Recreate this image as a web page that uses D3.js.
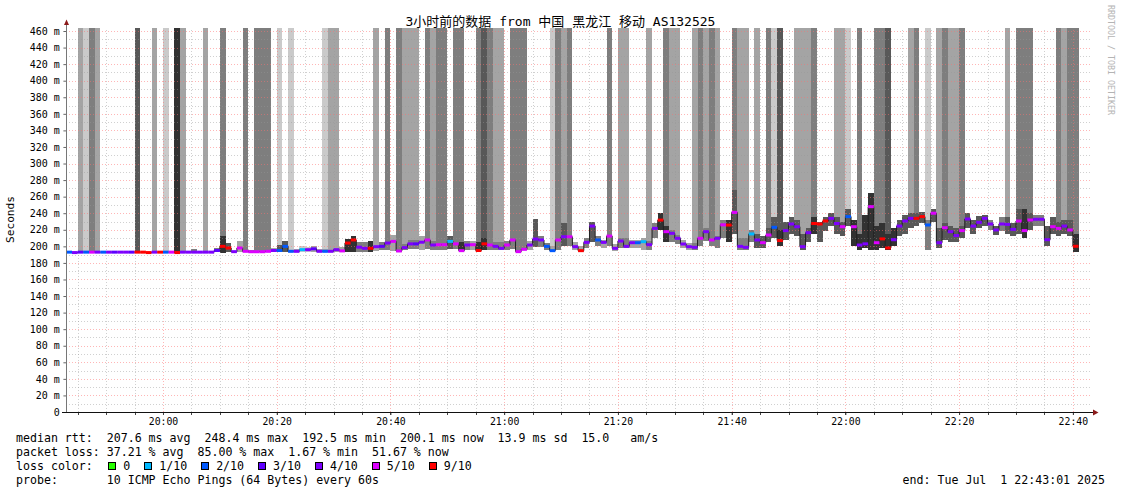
<!DOCTYPE html>
<html><head><meta charset="utf-8">
<script src="https://cdn.jsdelivr.net/npm/d3@7/dist/d3.min.js"></script>
<style>
html,body{margin:0;padding:0;background:#fff;}
svg{display:block;}
text{font-family:"DejaVu Sans Mono","Noto Sans CJK SC",monospace;white-space:pre;}
</style></head><body>
<svg id="c" width="1121" height="494"></svg>
<script>
// ---------- data (one entry per 60 s step, first step ends 19:44:00) ----------
const medianMs = [
193,192.5,193,193,193,193,193,193,193,193,
193,193,193,193,192.5,193,193,193,193,192.5,
193,193,193,193,193,193,195,200,198,193.6,
198,194,193.5,193.5,193.5,194,195,195,200,194,
194,196,196,197,194,194,194,196,194.5,204,
207.7,199,197.6,197.6,199.6,200,204,206,194.4,198.5,
203,203,205,207.7,201.6,202,202,206,203,194.8,
201.6,202,195,203,201.6,200,197.6,201.6,207.7,193.6,
196.4,201.6,208.8,207.7,200,194.8,207.7,211.6,211.6,199.6,
194.8,204.8,224.5,207.7,204.8,212.4,197.6,206.4,200,204.4,
204.4,205.6,202,221.7,231.7,217.7,215.7,209.7,202.8,199.6,
198.8,209.7,217.7,207.7,209.7,226,225.7,241,200,198.8,
215,207.7,204.4,213.7,223,207,219,227,223.7,199.6,
216.5,227.6,227,230.6,233.8,227.6,223.7,235.9,223.7,201.6,
203,247.9,204.4,209,198,208,224.5,230.6,233.8,233.8,
235.9,225.8,240,204.4,222.5,217.7,213,219,233,224.5,
229,233.8,227,219.8,227,226.5,220.5,230.6,219,231.8,
232.7,232.7,208,223.7,221.7,224.5,219.8,200.1];
const lossCount = [
2,4,3,2,5,4,2,4,3,4, 4,3,9,9,9,4,9,2,5,9, 4,4,4,4,4,4,3,9,9,4,
5,5,5,5,5,5,4,2,2,2, 4,1,4,3,4,2,4,4,5,9, 9,4,4,9,4,3,4,5,5,4,
4,3,4,5,4,5,5,1,5,5, 4,5,9,9,5,4,4,5,5,5, 5,4,4,4,2,2,5,4,5,4,
9,4,4,2,4,5,4,4,4,4, 2,1,4,4,9,5,4,4,4,4, 4,5,4,5,4,5,9,5,4,4,
1,4,5,5,2,9,4,4,4,4, 4,9,9,9,4,4,5,2,5,4, 4,5,5,9,9,4,4,4,4,9,
9,2,5,4,5,4,4,5,4,4, 4,4,4,4,4,4,4,5,5,5, 4,4,4,5,5,4,5,9];
// shade level of the smoke that reaches above the chart top (0 = none)
const topShade = [
0,0,2,1,3,2,0,0,0,0, 0,0,4,0,0,2,0,1,0,5, 2,0,0,0,2,0,0,3,0,0,
0,3,0,3,3,3,0,1,0,1, 0,0,0,0,0,1,2,2,0,0, 0,0,0,0,2,0,3,0,3,2,
2,2,0,3,2,3,3,0,3,3, 0,0,3,4,3,2,2,0,3,3, 3,0,0,0,0,1,3,2,3,0,
0,0,0,0,0,3,0,2,2,0, 0,0,2,0,0,3,2,2,0,0, 2,3,2,3,2,0,0,3,2,2,
0,2,0,3,1,4,0,0,2,2, 2,3,0,0,0,2,2,1,0,3, 0,0,3,3,4,0,0,0,2,3,
0,1,0,2,3,2,2,3,0,0, 0,0,0,0,0,2,0,3,3,3, 0,0,0,0,3,2,3,3];
const smokeLo = [
193,192.5,193,193,193,193,193,193,193,193,
193,193,193,193,192.5,193,193,193,193,192.5,
193,193,193,193,193,193,193,192,193,193,
193,193,193,193,193,193,193,193,193,193,
193,193,193,193,193,193,193,193,193,193,
193,193,193,193,194,196,196,194,193,195,
197,197,196,197,196,195,195,197,197,193,
196,196,193,196,196,195,195,196,197,192,
195,196,199,199,196,193,196,200,200,195,
193,198,205,200,198,200,194,198,198,198,
198,196,196,210,220,205,205,203,198,196,
195,200,207,200,198,210,205,215,196,196,
205,198,198,205,210,200,208,215,212,195,
205,215,205,218,225,215,212,225,200,195,
198,195,195,198,195,200,212,215,222,225,
228,195,230,198,208,205,205,210,222,215,
222,225,220,214,218,215,212,215,210,220,
225,225,200,215,212,215,212,193];
const smokeHi = [
193,192.5,193,193,193,193,193,193,193,193,
193,193,193,193,192.5,193,193,193,193,192.5,
193,193,197,193,193,193,198,213,204,194,
206,206,195,197,197,197,198,202,206,196,
197,200,199,200,197,197,200,200,199,209,
213,205,205,207,204,205,210,214,200,203,
208,208,212,212,206,205,205,212,207,205,
206,206,205,210,206,205,205,206,212,200,
203,206,233,212,204,200,215,228,215,205,
200,210,230,212,208,216,203,210,210,208,
208,210,207,228,240,225,220,214,208,204,
204,214,222,212,213,232,232,268,210,210,
220,215,212,222,235,220,230,235,232,215,
222,235,230,236,240,235,230,245,232,215,
238,265,225,228,215,222,232,238,240,240,
242,232,245,222,228,225,222,225,240,232,
237,238,232,225,235,235,228,245,245,240,
238,238,225,235,230,232,232,215];
const coreShade = [
3,3,3,3,3,3,3,3,3,3, 3,3,3,3,3,3,3,3,3,3, 3,3,3,3,3,3,3,5,4,3,
2,2,3,3,3,3,2,4,4,2, 2,1,1,2,2,2,2,2,2,5, 5,3,3,5,2,3,3,2,2,3,
3,3,2,3,3,3,3,4,3,5, 3,2,5,5,3,3,3,3,3,3, 3,2,4,3,3,2,3,4,3,2,
2,3,4,3,2,3,2,3,3,2, 2,2,3,3,5,5,3,3,2,2, 3,3,3,3,3,3,5,4,3,3,
3,4,4,4,4,5,4,4,4,4, 4,5,4,4,4,4,4,4,5,5, 5,5,5,5,5,5,4,4,4,4,
4,3,4,4,4,4,4,4,4,4, 4,4,3,4,3,4,4,4,5,4, 3,3,4,4,4,4,4,5];
const lossLabels = ["0","1/10","2/10","3/10","4/10","5/10","9/10"];
const lossThresh = [0,1,2,3,4,5,9];
const lossColors = ["#26ff00","#00b8ff","#0059ff","#5e00ff","#7e00ff","#dd00ff","#ff0000"];
const yTickValues = [0,20,40,60,80,100,120,140,160,180,200,220,240,260,280,300,320,340,360,380,400,420,440,460];
const yTickLabels = ["0","20 m","40 m","60 m","80 m","100 m","120 m","140 m","160 m","180 m","200 m","220 m","240 m","260 m","280 m","300 m","320 m","340 m","360 m","380 m","400 m","420 m","440 m","460 m"];
const xTickLabels = ["20:00","20:20","20:40","21:00","21:20","21:40","22:00","22:20","22:40"];
const shades = [null,"#cacaca","#a4a4a4","#7e7e7e","#585858","#323232"];
const titleText = "3小时前的数据 from 中国 黑龙江 移动 AS132525";
const legendLines = [
 "median rtt:  207.6 ms avg  248.4 ms max  192.5 ms min  200.1 ms now  13.9 ms sd  15.0   am/s",
 "packet loss: 37.21 % avg  85.00 % max  1.67 % min  51.67 % now"];
const probeText = "probe:       10 ICMP Echo Pings (64 Bytes) every 60s";
const endText = "end: Tue Jul  1 22:43:01 2025";

// ---------- layout ----------
const svg = d3.select("#c");
const L = 66.4, R = 1090, B = 412, T = 28;
const t0 = Date.UTC(2025,6,1,19,43,0);
const x = d3.scaleUtc().domain([new Date(Date.UTC(2025,6,1,19,43,1)), new Date(Date.UTC(2025,6,1,22,43,1))]).range([L, R]);
const y = d3.scaleLinear().domain([0,460]).range([B,31]);
const yTop = y.invert(T);
const colX0 = i => Math.max(L, x(new Date(t0 + i*60000)));
const colX1 = i => x(new Date(t0 + (i+1)*60000));
const N = medianMs.length;
const idx = d3.range(N);

// smoke
const g = svg.append("g").attr("shape-rendering","crispEdges");
g.selectAll("rect.tall").data(idx.filter(i=>topShade[i]>0)).join("rect")
 .attr("x", i=>colX0(i)).attr("width", i=>colX1(i)-colX0(i))
 .attr("y", y(yTop)).attr("height", i=>y(smokeLo[i])-y(yTop))
 .attr("fill", i=>shades[topShade[i]]);
const g2 = svg.append("g").attr("shape-rendering","crispEdges");
g2.selectAll("rect").data(idx.filter(i=>smokeHi[i]>smokeLo[i])).join("rect")
 .attr("x", i=>colX0(i)).attr("width", i=>colX1(i)-colX0(i))
 .attr("y", i=>y(smokeHi[i])).attr("height", i=>y(smokeLo[i])-y(smokeHi[i]))
 .attr("fill", i=>shades[Math.max(coreShade[i], topShade[i])]);

// grid
const grid = svg.append("g").attr("shape-rendering","crispEdges");
const minorCol = "rgba(150,150,150,0.45)", majorCol = "rgba(255,110,110,0.5)";
for (let v=10; v<=460; v+=10) {
  const major = v%20===0;
  grid.append("line").attr("x1",L).attr("x2",R).attr("y1",Math.round(y(v))+0.5).attr("y2",Math.round(y(v))+0.5)
   .attr("stroke", major?majorCol:minorCol).attr("stroke-dasharray","1,2");
}
const fiveMin = d3.utcMinute.every(5).range(new Date(Date.UTC(2025,6,1,19,44,0)), new Date(Date.UTC(2025,6,1,22,43,1)));
fiveMin.forEach(d=>{
  const major = d.getUTCMinutes()%20===0;
  const xx = Math.round(x(d))+0.5;
  grid.append("line").attr("x1",xx).attr("x2",xx).attr("y1",B).attr("y2",T)
   .attr("stroke", major?majorCol:minorCol).attr("stroke-dasharray","1,2");
  grid.append("line").attr("x1",xx).attr("x2",xx).attr("y1",B).attr("y2",B+3).attr("stroke","#444");
});

// median line: thin dark step line + 3px loss-coloured segment per step
const pts = idx.map(i=>[colX0(i), medianMs[i]]);
pts.push([colX1(N-1), medianMs[N-1]]);
svg.append("path").attr("d", d3.line().x(d=>d[0]).y(d=>y(d[1])).curve(d3.curveStepAfter)(pts))
  .attr("fill","none").attr("stroke","#202020").attr("stroke-width",1);
const lossIdx = l => { let k=0; lossThresh.forEach((t,j)=>{ if(l>=t) k=j; }); return k; };
svg.append("g").selectAll("line").data(idx).join("line")
  .attr("x1", i=>colX0(i)).attr("x2", i=>colX1(i))
  .attr("y1", i=>y(medianMs[i])).attr("y2", i=>y(medianMs[i]))
  .attr("stroke", i=>lossColors[lossIdx(lossCount[i])]).attr("stroke-width",3);

// axes
const yAxis = d3.axisLeft(y).tickValues(yTickValues).tickFormat((d,i)=>yTickLabels[i]).tickSize(3).tickPadding(3.5);
const ya = svg.append("g").attr("transform",`translate(${L},0)`).call(yAxis);
ya.select(".domain").remove();
ya.selectAll("line").attr("stroke","#666");
ya.selectAll("text").attr("font-size","10px").attr("fill","#000").attr("font-family","DejaVu Sans Mono");
const xTickDates = xTickLabels.map(s=>{const [h,m]=s.split(":").map(Number); return new Date(Date.UTC(2025,6,1,h,m,0));});
const xAxis = d3.axisBottom(x).tickValues(xTickDates).tickFormat((d,i)=>xTickLabels[i]).tickSize(3).tickPadding(3.4);
const xa = svg.append("g").attr("transform",`translate(0,${B})`).call(xAxis);
xa.select(".domain").remove();
xa.selectAll("line").attr("stroke","#444");
xa.selectAll("text").attr("font-size","9.8px").attr("fill","#000").attr("font-family","DejaVu Sans Mono");
svg.append("line").attr("x1",66.5).attr("x2",66.5).attr("y1",B).attr("y2",23).attr("stroke","#777").attr("shape-rendering","crispEdges");
svg.append("line").attr("x1",62).attr("x2",1094).attr("y1",B+0.5).attr("y2",B+0.5).attr("stroke","#111").attr("shape-rendering","crispEdges");
svg.append("path").attr("d","M64,25 L69,25 L66.5,19.5 Z").attr("fill","#8b1a1a");
svg.append("path").attr("d","M1093,409.5 L1093,415.5 L1098.5,412.5 Z").attr("fill","#8b1a1a");

// texts
svg.append("text").attr("x",560.5).attr("y",25.5).attr("text-anchor","middle").attr("font-size","13px").text(titleText);
svg.append("text").attr("transform","translate(14,219.5) rotate(-90)").attr("text-anchor","middle").attr("font-size","11.2px").text("Seconds");
svg.append("text").attr("transform","translate(1108,5) rotate(90)").attr("font-size","8.3px").attr("fill","#b4b4b4").text("RRDTOOL / TOBI OETIKER");
const fs = 11.6, cw = 0.602*fs;
legendLines.forEach((s,i)=>svg.append("text").attr("x",16).attr("y",442+14*i).attr("font-size",fs+"px").text(s));
svg.append("text").attr("x",16).attr("y",470).attr("font-size",fs+"px").text("loss color:");
let bx = 16 + 13*cw + 1.5;
lossLabels.forEach((lab,i)=>{
  svg.append("rect").attr("x",Math.round(bx)+0.5).attr("y",462.5).attr("width",7).attr("height",7)
    .attr("fill",lossColors[i]).attr("stroke","#000").attr("stroke-width",1).attr("shape-rendering","crispEdges");
  const lx = bx + 15;
  svg.append("text").attr("x",lx).attr("y",470).attr("font-size",fs+"px").text(lab);
  bx = lx + (lab.length+2)*cw;
});
svg.append("text").attr("x",16).attr("y",484).attr("font-size",fs+"px").text(probeText);
svg.append("text").attr("x",1105).attr("y",484).attr("text-anchor","end").attr("font-size",fs+"px").text(endText);
</script>
</body></html>
